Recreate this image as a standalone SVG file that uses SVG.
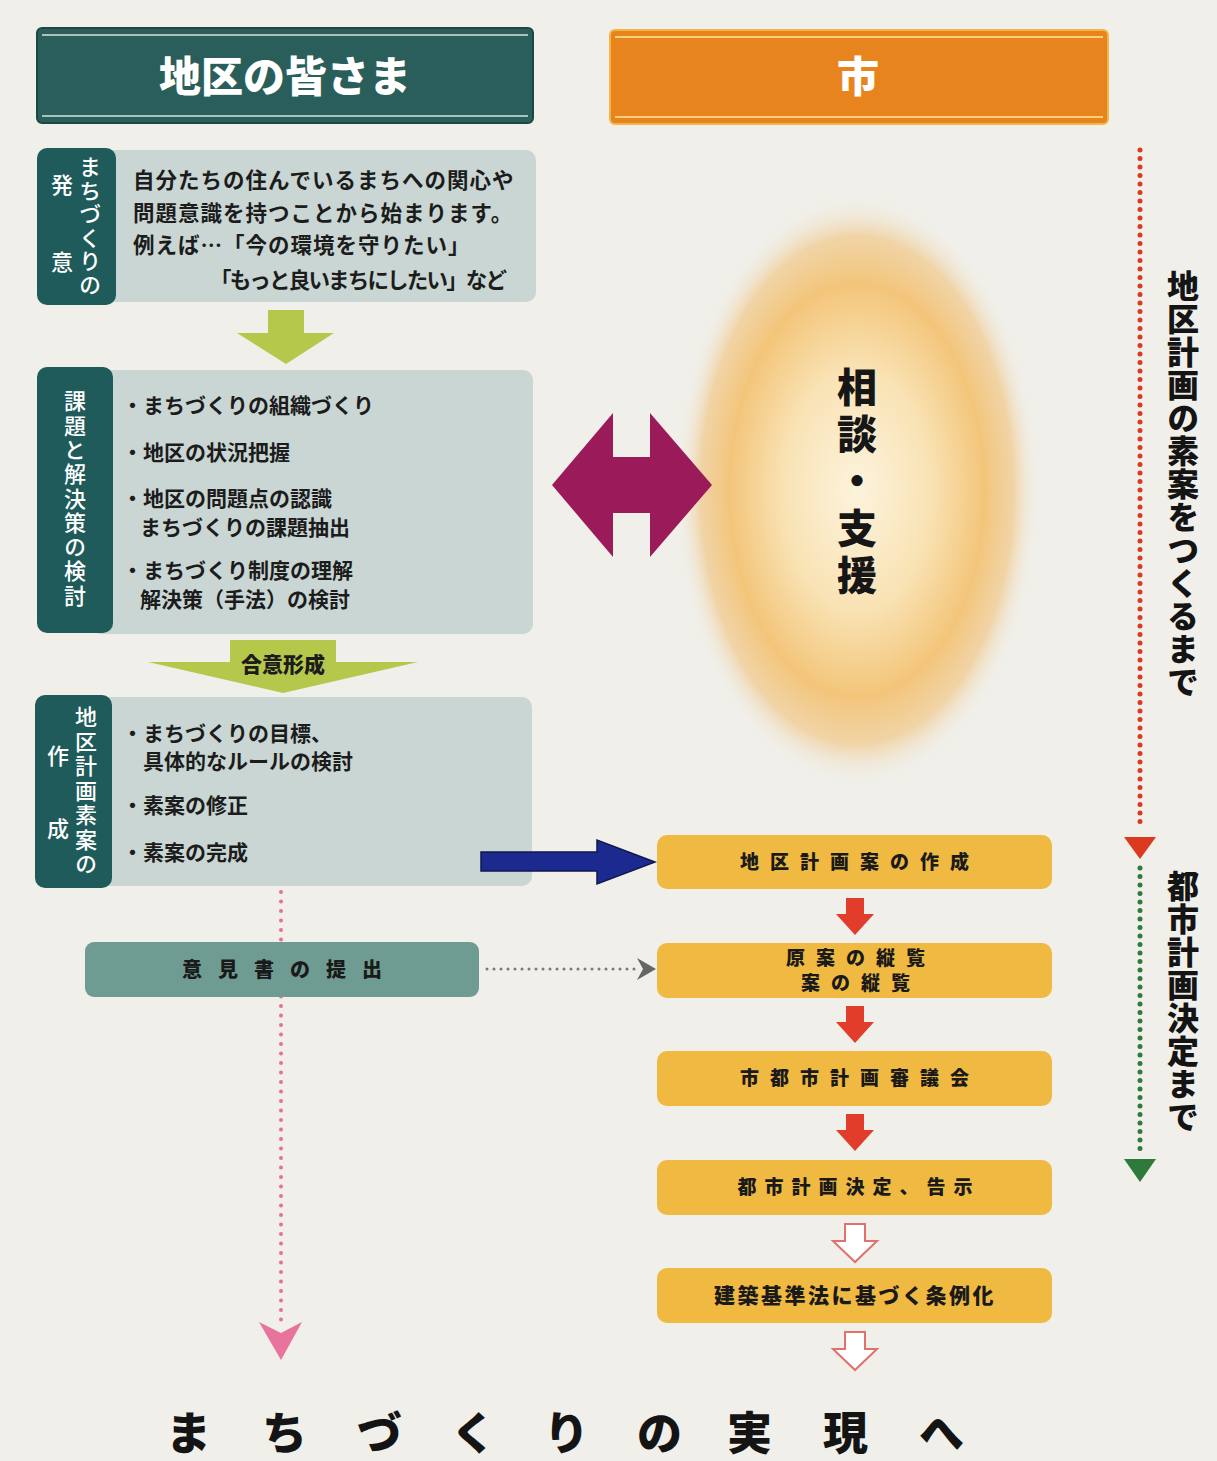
<svg xmlns="http://www.w3.org/2000/svg" width="1217" height="1461" viewBox="0 0 1217 1461">
<style>
text{font-family:"Noto Sans CJK JP","Noto Sans CJK SC",sans-serif;}
.hd{font-size:42px;font-weight:900;fill:#ffffff;text-anchor:middle;}
.lab{font-size:22px;font-weight:500;fill:#ffffff;writing-mode:vertical-rl;}
.it{font-size:21px;font-weight:700;fill:#1c1c1c;}
.b1{font-size:21.5px;font-weight:700;fill:#1c1c1c;letter-spacing:1px;}
.rb{font-size:19px;font-weight:900;fill:#1a1a1a;text-anchor:middle;letter-spacing:11px;}
.dark{fill:#1f5b5a;}
.light{fill:#c9d6d3;}
.gold{fill:#f0b942;}
.red{fill:#e23c2a;}
.oarr{fill:#ffffff;stroke:#e2706c;stroke-width:2;}
.vt{font-size:32px;font-weight:900;fill:#141414;writing-mode:vertical-rl;letter-spacing:1px;}
</style>
<defs>
<radialGradient id="glow" cx="50%" cy="50%" r="50%">
<stop offset="0%" stop-color="#fcf3dd"/>
<stop offset="40%" stop-color="#f9e3b5"/>
<stop offset="70%" stop-color="#f3c57a"/>
<stop offset="86%" stop-color="#f1c889" stop-opacity="0.7"/>
<stop offset="100%" stop-color="#f0efe9" stop-opacity="0"/>
</radialGradient>
</defs>
<rect x="0" y="0" width="1217" height="1461" fill="#f0efe9"/>

<g id="glow-area">
<ellipse cx="857" cy="490" rx="182" ry="295" fill="url(#glow)"/>
</g>

<g id="header-residents">
<rect x="37" y="28" width="496" height="95" rx="5" fill="#2a5e5b" stroke="#1d4745" stroke-width="2"/>
<line x1="42" y1="35" x2="528" y2="35" stroke="#a9c2bc" stroke-width="2"/>
<line x1="42" y1="116" x2="528" y2="116" stroke="#a9c2bc" stroke-width="2"/>
<text class="hd" x="285" y="92">地区の皆さま</text>
</g>

<g id="header-city">
<rect x="610" y="30" width="498" height="94" rx="5" fill="#e8841e" stroke="#f2b548" stroke-width="2"/>
<line x1="615" y1="37" x2="1103" y2="37" stroke="#f7cf7a" stroke-width="2"/>
<line x1="615" y1="117" x2="1103" y2="117" stroke="#f7cf7a" stroke-width="2"/>
<text class="hd" x="858" y="92">市</text>
</g>

<g id="box-hatsui">
<rect class="light" x="90" y="150" width="446" height="152" rx="10"/>
<rect class="dark" x="37" y="148" width="79" height="157" rx="10"/>
<text class="lab" x="90" y="156" style="letter-spacing:1.5px">まちづくりの</text>
<text class="lab" x="62" y="174">発</text>
<text class="lab" x="62" y="251">意</text>
<text class="b1" x="133" y="188">自分たちの住んでいるまちへの関心や</text>
<text class="b1" x="133" y="221">問題意識を持つことから始まります。</text>
<text class="b1" x="133" y="253">例えば…「今の環境を守りたい」</text>
<text class="b1" x="210" y="288" textLength="298" lengthAdjust="spacing">「もっと良いまちにしたい」など</text>
</g>

<g id="box-kentou">
<rect class="light" x="90" y="370" width="443" height="264" rx="10"/>
<rect class="dark" x="37" y="367" width="76" height="266" rx="10"/>
<text class="lab" x="75" y="390" style="letter-spacing:2.3px">課題と解決策の検討</text>
<text class="it" x="122" y="413">・まちづくりの組織づくり</text>
<text class="it" x="122" y="460">・地区の状況把握</text>
<text class="it" x="122" y="506">・地区の問題点の認識</text>
<text class="it" x="140" y="535">まちづくりの課題抽出</text>
<text class="it" x="122" y="578">・まちづくり制度の理解</text>
<text class="it" x="140" y="607">解決策（手法）の検討</text>
</g>

<g id="box-soan">
<rect class="light" x="90" y="697" width="442" height="189" rx="10"/>
<rect class="dark" x="35" y="695" width="77" height="193" rx="10"/>
<text class="lab" x="86" y="706" style="letter-spacing:2.5px">地区計画素案の</text>
<text class="lab" x="58" y="745">作</text>
<text class="lab" x="58" y="818">成</text>
<text class="it" x="122" y="741">・まちづくりの目標、</text>
<text class="it" x="143" y="769">具体的なルールの検討</text>
<text class="it" x="122" y="813">・素案の修正</text>
<text class="it" x="122" y="860">・素案の完成</text>
</g>

<g id="connectors">
<polygon points="268,310 304,310 304,333 334,333 286,364 237,333 268,333" fill="#b6c84b"/>
<polygon points="230,640 336,640 336,662 418,662 283,693 148,662 230,662" fill="#b6c84b"/>
<text x="283" y="672" style="font-size:21px;font-weight:900;fill:#1c1c1c;text-anchor:middle">合意形成</text>
<polygon points="552,485 613,413 613,457 650,457 650,413 712,485 650,557 650,513 613,513 613,557" fill="#9b1b5a"/>
<polygon points="481,852 597,852 597,840 655,862 597,884 597,871 481,871" fill="#1c2a90" stroke="#10184f" stroke-width="1.5"/>
<polygon class="red" points="846,898 864,898 864,914 874,914 855,935 836,914 846,914"/>
<polygon class="red" points="846,1006 864,1006 864,1022 874,1022 855,1043 836,1022 846,1022"/>
<polygon class="red" points="846,1114 864,1114 864,1130 874,1130 855,1151 836,1130 846,1130"/>
<polygon class="oarr" points="845,1224 865,1224 865,1241 877,1241 855,1262 833,1241 845,1241"/>
<polygon class="oarr" points="845,1332 865,1332 865,1349 877,1349 855,1370 833,1349 845,1349"/>
<line x1="487" y1="969" x2="638" y2="969" stroke="#7a7a7a" stroke-width="3" stroke-dasharray="0 7" stroke-linecap="round"/>
<polygon points="637,958 656,969 637,980 643,969" fill="#666"/>
<line x1="281" y1="892" x2="281" y2="1322" stroke="#e5709a" stroke-width="4" stroke-dasharray="0 9.5" stroke-linecap="round"/>
<polygon points="259,1322 281,1333 302,1322 281,1360" fill="#e8739c"/>
<line x1="1140" y1="150" x2="1140" y2="830" stroke="#d83a22" stroke-width="5" stroke-dasharray="0 8.5" stroke-linecap="round"/>
<polygon points="1124,837 1156,837 1140,859" fill="#dc3a20"/>
<line x1="1140" y1="868" x2="1140" y2="1156" stroke="#2f7a3c" stroke-width="5" stroke-dasharray="0 8.5" stroke-linecap="round"/>
<polygon points="1124,1159 1156,1159 1140,1182" fill="#2e7a3a"/>
</g>

<g id="box-ikensho">
<rect x="85" y="942" width="394" height="55" rx="9" fill="#6f9c92"/>
<text x="290" y="977" style="font-size:20px;font-weight:900;fill:#1a1a1a;text-anchor:middle;letter-spacing:16px">意見書の提出</text>
</g>

<g id="box-r1">
<rect class="gold" x="657" y="835" width="395" height="54" rx="10"/>
<text class="rb" x="860" y="869">地区計画案の作成</text>
</g>
<g id="box-r2">
<rect class="gold" x="657" y="943" width="395" height="55" rx="10"/>
<text class="rb" x="861" y="965">原案の縦覧</text>
<text class="rb" x="861" y="990">案の縦覧</text>
</g>
<g id="box-r3">
<rect class="gold" x="657" y="1051" width="395" height="55" rx="10"/>
<text class="rb" x="860" y="1085">市都市計画審議会</text>
</g>
<g id="box-r4">
<rect class="gold" x="657" y="1160" width="395" height="55" rx="10"/>
<text class="rb" x="859" y="1194" style="letter-spacing:8px">都市計画決定、告示</text>
</g>
<g id="box-r5">
<rect class="gold" x="657" y="1268" width="395" height="55" rx="10"/>
<text x="855" y="1303" style="font-size:21px;font-weight:900;fill:#1a1a1a;text-anchor:middle;letter-spacing:2.5px">建築基準法に基づく条例化</text>
</g>

<g id="consult">
<text x="857" y="367" style="font-size:40px;font-weight:900;fill:#161616;writing-mode:vertical-rl;letter-spacing:7px">相談・支援</text>
</g>

<g id="side-labels">
<text class="vt" x="1183" y="270">地区計画の素案をつくるまで</text>
<text class="vt" x="1183" y="870">都市計画決定まで</text>
</g>

<g id="footer">
<text x="166 262 357 451 544 637 727 823 919" y="1450" style="font-size:45px;font-weight:900;fill:#141414">まちづくりの実現へ</text>
</g>
</svg>
